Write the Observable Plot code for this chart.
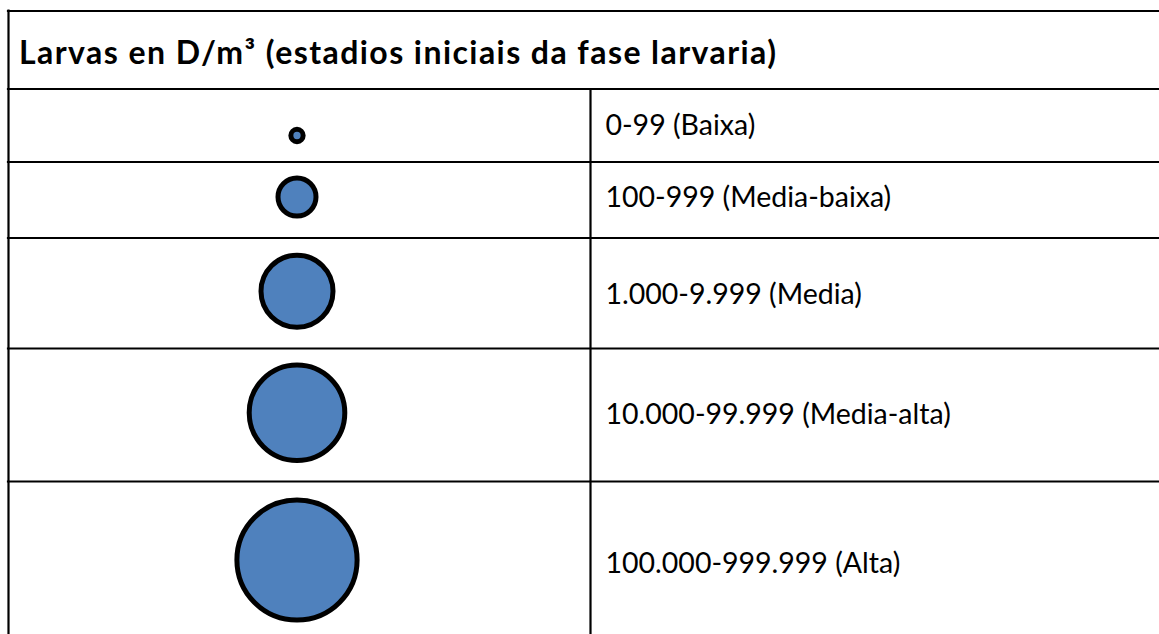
<!DOCTYPE html>
<html>
<head>
<meta charset="utf-8">
<script src="https://cdn.jsdelivr.net/npm/d3@7"></script>
<script src="https://cdn.jsdelivr.net/npm/@observablehq/plot@0.6"></script>
<style>
  html, body { margin: 0; padding: 0; background: #fff; }
  svg { display: block; }
</style>
</head>
<body>
<div id="chart"></div>
<script>
// ---- data ----
const title = "Larvas en D/m³ (estadios iniciais da fase larvaria)";
const classLabels = [
  "0-99 (Baixa)",
  "100-999 (Media-baixa)",
  "1.000-9.999 (Media)",
  "10.000-99.999 (Media-alta)",
  "100.000-999.999 (Alta)"
];
const classLevels = [1, 2, 3, 4, 5];

// ---- layout (positions / styles) ----
const W = 1159, H = 634;
const tableLeft = 8, tableTop = 10.5, headerBottom = 88.5;
const rowHeights = [73, 76, 110.5, 133, 161];
const colDivider = 590;
const circleX = 296.5;
const textX = 605;
const circleDy = [10, -3, -2, -2.3, -2];
const textDy = [0, -2.5, 2, -0.5, 1.7];
const radii = [6.15, 19, 36, 47.8, 60.1];
const titleWidth = 757;
const font = "Lato, 'Open Sans', sans-serif";

const rowTops = [];
let acc = headerBottom;
for (const h of rowHeights) { rowTops.push(acc); acc += h; }
const rows = classLabels.map((label, i) => ({
  label,
  level: classLevels[i],
  center: rowTops[i] + rowHeights[i] / 2,
  i
}));
const hLines = [tableTop, headerBottom, ...rowTops.slice(1)];

const chart = Plot.plot({
  width: W,
  height: H,
  margin: 0,
  x: {type: "identity", axis: null},
  y: {type: "identity", axis: null},
  r: {type: "linear", domain: classLevels, range: radii},
  style: {background: "#fff"},
  marks: [
    Plot.ruleY(hLines, {y: d => d, x1: tableLeft - 1.1, x2: W, stroke: "#000", strokeWidth: 2.2}),
    Plot.ruleX([tableLeft], {x: d => d, y1: tableTop - 1.1, y2: H, stroke: "#000", strokeWidth: 2.2}),
    Plot.ruleX([colDivider], {x: d => d, y1: headerBottom, y2: H, stroke: "#000", strokeWidth: 2.2}),
    Plot.text([title], {
      x: 18.5, y: (tableTop + headerBottom) / 2 + 3.3, text: d => d,
      textAnchor: "start", fontSize: 32, fontWeight: "bold", fontFamily: font, fill: "#000"
    }),
    Plot.dot(rows, {
      x: circleX, y: d => d.center + circleDy[d.i], r: "level",
      fill: "#4F81BD", stroke: "#000", strokeWidth: 5
    }),
    Plot.text(rows, {
      x: textX, y: d => d.center + textDy[d.i], text: "label",
      textAnchor: "start", fontSize: 28.5, fontFamily: font, fill: "#000"
    })
  ]
});
document.getElementById("chart").appendChild(chart);
chart.querySelectorAll("text").forEach(t => {
  if (t.textContent === title) {
    const len = t.getComputedTextLength();
    const n = title.length;
    if (len > 0 && len < titleWidth) {
      t.style.letterSpacing = ((titleWidth - len) / (n - 1)) + "px";
    }
  }
});
</script>
</body>
</html>
